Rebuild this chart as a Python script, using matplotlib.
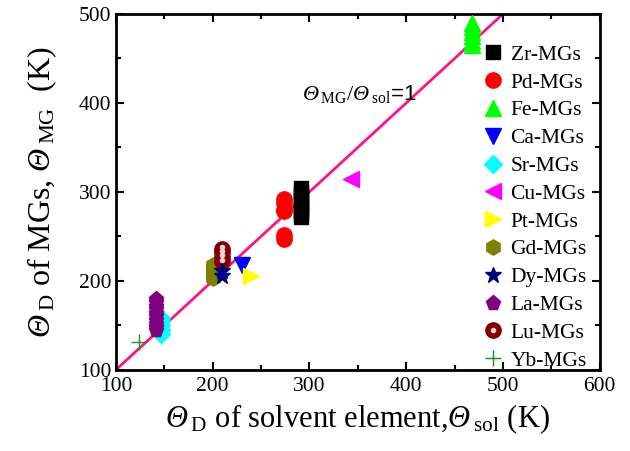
import matplotlib
matplotlib.use("Agg")
import matplotlib.pyplot as plt
from matplotlib.legend_handler import HandlerTuple
from matplotlib.lines import Line2D

plt.rcParams['font.family'] = ['Liberation Serif', 'DejaVu Serif']
plt.rcParams['mathtext.fontset'] = 'custom'
plt.rcParams['mathtext.rm'] = 'Liberation Serif'
plt.rcParams['mathtext.it'] = 'Liberation Serif:italic'
plt.rcParams['mathtext.cal'] = 'Liberation Serif:italic'
plt.rcParams['mathtext.bf'] = 'Liberation Serif:bold'

# Data (Theta_sol, Theta_MG) in K
groups = ["Zr-MGs", "Pd-MGs", "Fe-MGs", "Ca-MGs", "Sr-MGs", "Cu-MGs",
          "Pt-MGs", "Gd-MGs", "Dy-MGs", "La-MGs", "Lu-MGs", "Yb-MGs"]
zr_x = [291] * 9
zr_y = [272, 276, 280, 284, 288, 292, 296, 300, 304]
pd_x = [274] * 6
pd_y = [247, 252, 278, 280, 287, 292]
fe_x = [468] * 6
fe_y = [465, 470, 475, 480, 485, 490]
ca_x = [230]
ca_y = [218]
sr_x = [147, 147, 147, 147, 147]
sr_y = [140, 145, 150, 155, 158]
cu_x = [343]
cu_y = [314]
pt_x = [240]
pt_y = [205]
gd_x = [200] * 5
gd_y = [203, 207, 211, 215, 218]
dy_x = [210, 210]
dy_y = [205, 211]
la_x = [141] * 10
la_y = [145, 148, 152, 156, 160, 164, 168, 172, 176, 180]
lu_x = [210] * 4
lu_y = [222, 227, 232, 236]
yb_x = [124]
yb_y = [131]

T = r'{\mathcal{\Theta}\,}'

fig = plt.figure(figsize=(6.3, 4.51), dpi=100)
ax = fig.add_axes([0.184, 0.180, 0.768, 0.789])

ax.plot([100, 500], [100, 500], color='#FF1480', lw=2, zorder=1)

ms = 10
h = []
h.append(ax.plot(zr_x, zr_y, 's', color='black', ms=ms, ls='none', zorder=3)[0])
h.append(ax.plot(pd_x, pd_y, 'o', color='#FF0000', ms=ms + 1, ls='none', zorder=3)[0])
h.append(ax.plot(fe_x, fe_y, '^', color='#00FF00', ms=ms + 1, ls='none', zorder=3)[0])
h.append(ax.plot(ca_x, ca_y, 'v', color='#0000FF', ms=ms + 1, ls='none', zorder=3)[0])
h.append(ax.plot(sr_x, sr_y, 'D', color='#00FFFF', ms=ms - 1, ls='none', zorder=3)[0])
h.append(ax.plot(cu_x, cu_y, '<', color='#FF00FF', ms=ms + 1, ls='none', zorder=3)[0])
h.append(ax.plot(pt_x, pt_y, '>', color='#FFFF00', ms=ms + 1, ls='none', zorder=3)[0])
h.append(ax.plot(gd_x, gd_y, 'h', color='#808000', ms=ms + 1, ls='none', zorder=3)[0])
h.append(ax.plot(dy_x, dy_y, '*', color='#000080', ms=ms + 2, ls='none', zorder=4)[0])
h.append(ax.plot(la_x, la_y, 'p', color='#800080', ms=ms + 1, ls='none', zorder=3)[0])
lu_base = ax.plot(lu_x, lu_y, 'o', color='#800000', ms=ms + 1, ls='none', zorder=3)[0]
lu_hi = ax.plot(lu_x, [v + 2 for v in lu_y], 'o', color='#F0D0D0', ms=3, ls='none', zorder=3)[0]
h.append((lu_base, Line2D([], [], marker='o', color='#F0D0D0', ms=3, ls='none')))
h.append(ax.plot(yb_x, yb_y, '+', color='#228B22', ms=ms + 2, mew=1, ls='none', zorder=3)[0])

leg = ax.legend(h, groups, loc='upper right', bbox_to_anchor=(1.0, 0.95),
                frameon=False, fontsize=15.5, handletextpad=0.2, labelspacing=0.36,
                handlelength=1.2, borderaxespad=0.2,
                handler_map={tuple: HandlerTuple(ndivide=1, pad=0)})

ax.text(292, 403, r'$' + T + r'_{\rm MG}/' + T + r'_{\rm sol}$=1', fontsize=16,
        family=['Liberation Sans'])

ax.set_xlim(100, 600)
ax.set_ylim(100, 500)
ax.set_xticks([100, 200, 300, 400, 500, 600])
ax.set_yticks([100, 200, 300, 400, 500])
ax.set_xticks(range(150, 600, 100), minor=True)
ax.set_yticks(range(150, 500, 100), minor=True)
ax.tick_params(which='both', direction='in', top=True, right=True, width=1.5)
ax.tick_params(which='major', length=6, labelsize=15.5)
ax.tick_params(axis='x', which='major', pad=5)
ax.tick_params(which='minor', length=3.5)
for s in ax.spines.values():
    s.set_linewidth(2)

ax.set_xlabel(r'$' + T + r'_{\rm D}$ of solvent element,$' + T + r'_{\rm sol}$ (K)', fontsize=22, labelpad=5)
ax.set_ylabel(r'$' + T + r'_{\rm D}$ of MGs, $' + T + r'_{\rm MG}$  (K)', fontsize=23, labelpad=14)

fig.savefig('out.png', dpi=100)
